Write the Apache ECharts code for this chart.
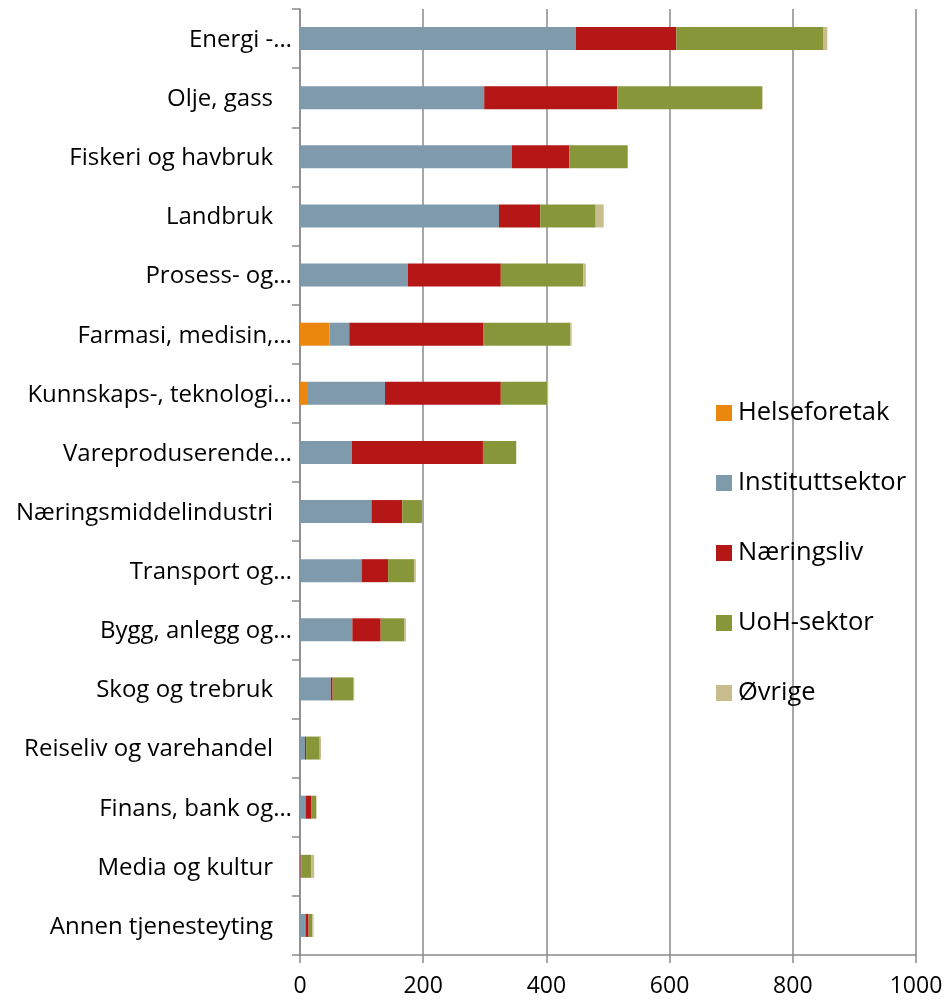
<!DOCTYPE html>
<html>
<head>
<meta charset="utf-8">
<script src="https://cdn.jsdelivr.net/npm/echarts@6/dist/echarts.min.js"></script>
<style>
  html, body { margin: 0; padding: 0; background: #fff; }
  #main { width: 946px; height: 1002px; }
</style>
</head>
<body>
<div id="main"></div>
<script>
"use strict";

var categories = [
  "Energi -…", "Olje, gass", "Fiskeri og havbruk", "Landbruk", "Prosess- og…",
  "Farmasi, medisin,…", "Kunnskaps-, teknologi…", "Vareproduserende…",
  "Næringsmiddelindustri", "Transport og…", "Bygg, anlegg og…", "Skog og trebruk",
  "Reiseliv og varehandel", "Finans, bank og…", "Media og kultur", "Annen tjenesteyting"
];

var helseforetak = [0, 0, 0, 0, 0, 48, 13, 0, 0, 0, 0, 0, 0, 0, 0, 0];
var instituttsektor = [448, 299, 344, 323, 175, 32, 125, 84, 116, 100, 85, 50, 8, 9, 1, 9];
var naeringsliv = [163, 216, 93, 67, 151, 218, 188, 213, 50, 43, 46, 3, 2, 9, 1, 5];
var uohSektor = [239, 235, 95, 90, 134, 141, 75, 54, 32, 42, 38, 33, 22, 8, 16, 6];
var ovrige = [6, 1, 0, 13, 4, 2, 2, 0, 0, 3, 3, 2, 2, 1, 5, 2];

var xTicks = [0, 200, 400, 600, 800, 1000];

chart1();

function chart1() {
  var font = "'Open Sans', sans-serif";
  var fs = 24;

  function bar(name, data, color) {
    return {
      name: name,
      type: "bar",
      stack: "total",
      barWidth: 23,
      data: data,
      itemStyle: { color: color },
      emphasis: { disabled: true },
    };
  }

  var option = {
    animation: false,
    textStyle: { fontFamily: font },
    grid: {
      left: 300,
      right: 30,
      top: 9,
      bottom: 47,
      containLabel: false,
    },
    legend: {
      orient: "vertical",
      left: 711,
      top: 395,
      itemWidth: 16,
      itemHeight: 16,
      itemGap: 44,
      icon: "rect",
      textStyle: {
        fontFamily: font,
        fontSize: 25.5,
        lineHeight: 26,
        color: "#000",
        padding: [0, 0, 0, 1],
      },
      data: ["Helseforetak", "Instituttsektor", "Næringsliv", "UoH-sektor", "Øvrige"],
    },
    xAxis: {
      type: "value",
      min: xTicks[0],
      max: xTicks[xTicks.length - 1],
      interval: xTicks[1] - xTicks[0],
      axisLine: { show: true, lineStyle: { color: "#8a8a8a", width: 1.5 } },
      axisTick: { show: true, length: 8, lineStyle: { color: "#8a8a8a", width: 1.5 } },
      splitLine: { show: true, lineStyle: { color: "#8a8a8a", width: 1.5 } },
      axisLabel: {
        fontFamily: font,
        fontSize: 23,
        color: "#000",
        margin: 20,
        formatter: function (v) { return String(v); },
      },
    },
    yAxis: {
      type: "category",
      inverse: true,
      data: categories,
      axisLine: { show: true, lineStyle: { color: "#8a8a8a", width: 1.5 } },
      axisTick: { show: true, length: 8, lineStyle: { color: "#8a8a8a", width: 1.5 } },
      splitLine: { show: false },
      axisLabel: {
        fontFamily: font,
        fontSize: fs,
        color: "#000",
        margin: 8,
        interval: 0,
        formatter: function (v) {
          return v.slice(-1) === "…" ? "{a|" + v + "}" : "{b|" + v + "}";
        },
        rich: {
          a: { fontFamily: font, fontSize: fs, color: "#000", padding: [3, 0, 0, 0] },
          b: { fontFamily: font, fontSize: fs, color: "#000", padding: [3, 19, 0, 0] },
        },
      },
    },
    series: [
      bar("Helseforetak", helseforetak, "#EC870E"),
      bar("Instituttsektor", instituttsektor, "#7F9AAB"),
      bar("Næringsliv", naeringsliv, "#B51717"),
      bar("UoH-sektor", uohSektor, "#879639"),
      bar("Øvrige", ovrige, "#C8BD8D"),
    ],
  };

  var chart = echarts.init(document.getElementById("main"));
  chart.setOption(option);
}
</script>
</body>
</html>
